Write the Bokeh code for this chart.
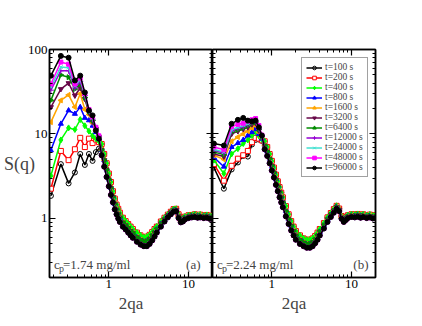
import math
from bokeh.plotting import figure
from bokeh.layouts import row
from bokeh.models import (LogAxis, FixedTicker, CustomJSTickFormatter, Label,
                          Legend, LegendItem, Range1d)
from bokeh.embed import file_html
from bokeh.resources import INLINE

# ---------------- data ----------------
times = ["t=100 s", "t=200 s", "t=400 s", "t=800 s", "t=1600 s", "t=3200 s",
         "t=6400 s", "t=12000 s", "t=24000 s", "t=48000 s", "t=96000 s"]

q_lo = [0.1875, 0.25, 0.3125, 0.375, 0.4375, 0.5, 0.5625, 0.625, 0.6875, 0.75]
q_hi = [0.8125, 0.875, 0.9375, 1.0, 1.0625, 1.125, 1.1875, 1.25, 1.3125, 1.375,
        1.5, 1.625, 1.75, 1.875, 2.0, 2.25, 2.5, 2.75, 3.0, 3.25,
        3.5, 3.75, 4.0, 4.5, 5.0, 5.5, 6.0, 6.5, 7.0, 7.5,
        8.0, 8.5, 9.0, 10, 11, 12, 13, 14, 15.5, 17, 18.5, 20]

# panel (a), c_p = 1.74 mg/ml : low-q part of each series
a_t100 = [1.85, 4.4, 2.6, 3.5, 5.8, 4.3, 5.8, 4.8, 6.1, 6.7]
a_t200 = [2.25, 6.3, 4.9, 6.6, 9.0, 7.0, 8.8, 7.8, 8.6, 8.0]
a_t400 = [3.2, 8.5, 11.8, 11.3, 14.8, 12.5, 10.8, 9.5, 8.8, 8.2]
a_t800 = [6.4, 13.2, 19.0, 17.3, 20.8, 15.5, 14.5, 12.5, 10.5, 8.8]
a_t1600 = [13.8, 25.0, 29.0, 20.8, 30.0, 19.5, 17.0, 13.5, 11.0, 9.0]
a_t3200 = [20.8, 34.0, 40.0, 28.5, 35.0, 26.0, 18.0, 14.0, 11.5, 9.2]
a_t6400 = [25.0, 50.0, 47.0, 34.0, 39.0, 27.0, 18.5, 14.5, 11.5, 9.3]
a_t12000 = [33.0, 56.0, 56.0, 35.0, 42.0, 28.5, 19.0, 15.0, 11.8, 9.3]
a_t24000 = [36.0, 62.0, 61.0, 37.0, 44.0, 29.5, 19.0, 15.5, 12.0, 9.4]
a_t48000 = [39.0, 71.0, 67.0, 39.0, 46.0, 30.0, 19.5, 16.0, 12.0, 9.5]
a_t96000 = [49.0, 84.0, 80.0, 43.0, 49.0, 31.0, 19.0, 16.6, 11.0, 8.8]
# panel (a) high-q band: upper (early), middle, lower (late) edges
a_tail_early = [7.6, 5.8, 4.5, 3.4, 2.7, 2.1, 1.72, 1.46, 1.3, 1.17,
                1.02, 0.93, 0.86, 0.8, 0.75, 0.68, 0.63, 0.6, 0.61, 0.64,
                0.69, 0.75, 0.8, 0.92, 1.02, 1.11, 1.2, 1.29, 1.3, 1.12,
                0.98, 1.0, 1.05, 1.09, 1.1, 1.12, 1.09, 1.11, 1.08, 1.1, 1.07, 1.08]
a_tail_mid = [6.5, 4.9, 3.8, 2.9, 2.3, 1.8, 1.48, 1.28, 1.14, 1.03,
              0.9, 0.83, 0.77, 0.71, 0.67, 0.6, 0.56, 0.53, 0.54, 0.57,
              0.62, 0.68, 0.74, 0.86, 0.97, 1.07, 1.16, 1.24, 1.26, 1.06,
              0.94, 0.96, 1.01, 1.05, 1.07, 1.08, 1.06, 1.07, 1.05, 1.06, 1.03, 1.04]
a_tail_late = [5.6, 4.1, 3.1, 2.4, 1.9, 1.55, 1.28, 1.12, 1.0, 0.91,
               0.8, 0.74, 0.68, 0.63, 0.59, 0.53, 0.49, 0.47, 0.47, 0.5,
               0.55, 0.61, 0.68, 0.8, 0.92, 1.03, 1.12, 1.2, 1.22, 1.01,
               0.9, 0.92, 0.97, 1.01, 1.03, 1.04, 1.02, 1.03, 1.01, 1.02, 0.99, 1.0]

# panel (b), c_p = 2.24 mg/ml
b_t100 = [4.0, 2.25, 3.8, 4.6, 5.5, 5.4, 7.5, 8.5, 8.6, 8.3]
b_t200 = [4.4, 2.8, 4.2, 5.1, 5.6, 6.3, 8.0, 9.0, 8.8, 8.4]
b_t400 = [4.9, 3.4, 5.8, 6.7, 7.7, 8.5, 9.6, 10.5, 9.5, 8.6]
b_t800 = [5.3, 4.1, 7.0, 7.8, 8.5, 9.6, 10.5, 11.5, 10.0, 8.8]
b_t1600 = [5.6, 5.0, 8.2, 9.2, 10.0, 10.8, 11.8, 12.6, 10.5, 9.0]
b_t3200 = [5.8, 5.4, 10.0, 10.8, 11.4, 12.0, 13.0, 13.4, 11.0, 9.2]
b_t6400 = [6.1, 5.7, 10.5, 11.2, 11.8, 12.6, 13.4, 13.8, 11.3, 9.3]
b_t12000 = [6.4, 5.9, 10.8, 11.7, 12.2, 13.0, 13.7, 14.2, 11.5, 9.4]
b_t24000 = [6.6, 6.1, 11.2, 12.0, 12.6, 13.2, 14.2, 14.4, 11.8, 9.5]
b_t48000 = [7.0, 6.5, 12.2, 13.0, 13.4, 14.2, 14.7, 15.2, 12.6, 9.7]
b_t96000 = [7.7, 7.3, 13.2, 14.7, 15.5, 14.4, 14.1, 14.4, 12.0, 9.6]
b_tail_early = [8.2, 7.0, 5.8, 4.8, 4.0, 3.3, 2.75, 2.35, 2.02, 1.78,
                1.4, 1.12, 0.93, 0.8, 0.71, 0.63, 0.58, 0.56, 0.56, 0.58,
                0.62, 0.68, 0.75, 0.88, 1.03, 1.16, 1.29, 1.41, 1.31, 1.07,
                0.99, 1.04, 1.09, 1.12, 1.11, 1.13, 1.1, 1.12, 1.09, 1.11, 1.08, 1.09]
b_tail_mid = [7.3, 6.2, 5.1, 4.2, 3.5, 2.9, 2.4, 2.05, 1.78, 1.56,
              1.22, 0.98, 0.82, 0.71, 0.63, 0.56, 0.52, 0.5, 0.5, 0.52,
              0.56, 0.62, 0.69, 0.82, 0.97, 1.1, 1.23, 1.36, 1.27, 1.03,
              0.95, 1.0, 1.05, 1.08, 1.07, 1.09, 1.06, 1.08, 1.05, 1.07, 1.04, 1.05]
b_tail_late = [6.6, 5.5, 4.5, 3.7, 3.05, 2.5, 2.1, 1.78, 1.55, 1.36,
               1.06, 0.86, 0.72, 0.63, 0.56, 0.5, 0.47, 0.45, 0.45, 0.47,
               0.51, 0.56, 0.63, 0.76, 0.91, 1.04, 1.17, 1.3, 1.22, 0.99,
               0.91, 0.96, 1.01, 1.04, 1.03, 1.05, 1.02, 1.04, 1.01, 1.03, 1.0, 1.01]

a_low = [a_t100, a_t200, a_t400, a_t800, a_t1600, a_t3200, a_t6400,
         a_t12000, a_t24000, a_t48000, a_t96000]
b_low = [b_t100, b_t200, b_t400, b_t800, b_t1600, b_t3200, b_t6400,
         b_t12000, b_t24000, b_t48000, b_t96000]
a_tails = [a_tail_early, a_tail_mid, a_tail_late]
b_tails = [b_tail_early, b_tail_mid, b_tail_late]
tail_group = [0, 0, 0, 1, 1, 1, 1, 2, 2, 2, 2]

y_ticks = [1, 10, 100]
x_ticks = [1, 10]

# ---------------- styles ----------------
FONT = "Liberation Serif"
colors = ["#000000", "#ff0000", "#00ff00", "#0000ff", "#ffa500", "#670748",
          "#008b00", "#9400d3", "#40e0d0", "#ff00ff", "#000000"]
markers = ["circle", "square", "diamond", "triangle", "triangle", "inverted_triangle",
           "triangle", "cross", "x", "square", "circle"]
angles = [0, 0, 0, 0, math.pi / 2, 0, -math.pi / 2, 0, 0, 0, 0]
fills = [None, "white", "#00ff00", "#0000ff", "#ffa500", "#670748",
         "#008b00", "#9400d3", "#40e0d0", "#ff00ff", "#000000"]
sizes = [5, 5, 6, 5, 5, 5, 5, 6, 5, 4, 5]

y_minor = [0.2, 0.3, 0.4, 0.5, 0.6, 0.7, 0.8, 0.9, 2, 3, 4, 5, 6, 7, 8, 9,
           20, 30, 40, 50, 60, 70, 80, 90]
x_minor = [0.2, 0.3, 0.4, 0.5, 0.6, 0.7, 0.8, 0.9, 2, 3, 4, 5, 6, 7, 8, 9, 20]


def style_axis(ax, ticks, minor, show_labels):
    ax.ticker = FixedTicker(ticks=ticks, minor_ticks=minor)
    ax.major_tick_in = 6
    ax.major_tick_out = 0
    ax.minor_tick_in = 3
    ax.minor_tick_out = 0
    ax.axis_line_width = 1.5
    ax.axis_line_color = "black"
    ax.major_tick_line_width = 1.2
    ax.minor_tick_line_width = 1
    if show_labels:
        ax.formatter = CustomJSTickFormatter(code="return String(tick)")
        ax.major_label_text_font = FONT
        ax.major_label_text_font_size = "13px"
        ax.major_label_text_color = "black"
        ax.major_label_standoff = 2
    else:
        ax.formatter = CustomJSTickFormatter(code="return ''")
        ax.major_label_text_font_size = "0px"
        ax.major_label_standoff = 0


def make_panel(lows, tails, left_labels, conc, tag, tag_x, mb_left, mb_right):
    p = figure(x_axis_type="log", y_axis_type="log",
               x_range=Range1d(0.18, 20), y_range=Range1d(0.2, 100),
               frame_width=163, frame_height=228,
               min_border_left=mb_left, min_border_right=mb_right,
               min_border_top=49, min_border_bottom=45,
               output_backend="svg", toolbar_location=None)
    p.grid.visible = False
    p.outline_line_color = "black"
    p.outline_line_width = 1.5
    p.background_fill_color = "white"

    style_axis(p.xaxis[0], x_ticks, x_minor, True)
    p.xaxis[0].axis_label = "2qa"
    p.xaxis[0].axis_label_text_font = FONT
    p.xaxis[0].axis_label_text_font_size = "17px"
    p.xaxis[0].axis_label_text_font_style = "normal"
    p.xaxis[0].axis_label_standoff = 3
    style_axis(p.yaxis[0], y_ticks, y_minor, left_labels)

    top = LogAxis()
    style_axis(top, x_ticks, x_minor, False)
    p.add_layout(top, "above")
    right = LogAxis()
    style_axis(right, y_ticks, y_minor, False)
    p.add_layout(right, "right")

    items = []
    for i in range(len(times)):
        xs = q_lo + q_hi
        ys = lows[i] + tails[tail_group[i]]
        ln = p.line(xs, ys, line_color=colors[i], line_width=1.5)
        sc = p.scatter(xs, ys, marker=markers[i], size=sizes[i], angle=angles[i],
                       line_color=colors[i],
                       fill_color=fills[i] if fills[i] else "white",
                       fill_alpha=1 if fills[i] else 0, line_width=1)
        items.append(LegendItem(label=times[i], renderers=[ln, sc]))

    p.add_layout(Label(x=4.5, y=13.5, x_units="screen", y_units="screen", text="c",
                       text_font=FONT, text_font_size="13px", text_baseline="alphabetic"))
    p.add_layout(Label(x=9.5, y=9.0, x_units="screen", y_units="screen", text="p",
                       text_font=FONT, text_font_size="10px", text_baseline="alphabetic"))
    p.add_layout(Label(x=13.5, y=13.5, x_units="screen", y_units="screen", text=conc,
                       text_font=FONT, text_font_size="13px", text_baseline="alphabetic"))
    p.add_layout(Label(x=tag_x, y=13.5, x_units="screen", y_units="screen", text=tag,
                       text_font=FONT, text_font_size="13px", text_align="right",
                       text_baseline="alphabetic"))
    return p, items


p1, _ = make_panel(a_low, a_tails, True, "=1.74 mg/ml", "(a)", 151, 49, 0)
yax = p1.yaxis[0]
yax.axis_label = "S(q)"
yax.axis_label_orientation = "horizontal"
yax.axis_label_text_font = FONT
yax.axis_label_text_font_size = "18px"
yax.axis_label_text_font_style = "normal"
yax.axis_label_standoff = -10

p2, items2 = make_panel(b_low, b_tails, False, "=2.24 mg/ml", "(b)", 156, 0, 30)

legend = Legend(items=items2, location=(89, 100))
legend.label_text_font = FONT
legend.label_text_font_size = "9.5px"
legend.label_text_line_height = 0.85
legend.glyph_width = 16
legend.glyph_height = 9
legend.label_height = 9
legend.spacing = 0
legend.padding = 4
legend.margin = 0
legend.label_standoff = 3
legend.border_line_color = "#444444"
legend.border_line_width = 1
legend.background_fill_alpha = 1
p2.add_layout(legend)

layout = row(p1, p2, spacing=0)
open("out.html", "w").write(file_html(layout, INLINE))
